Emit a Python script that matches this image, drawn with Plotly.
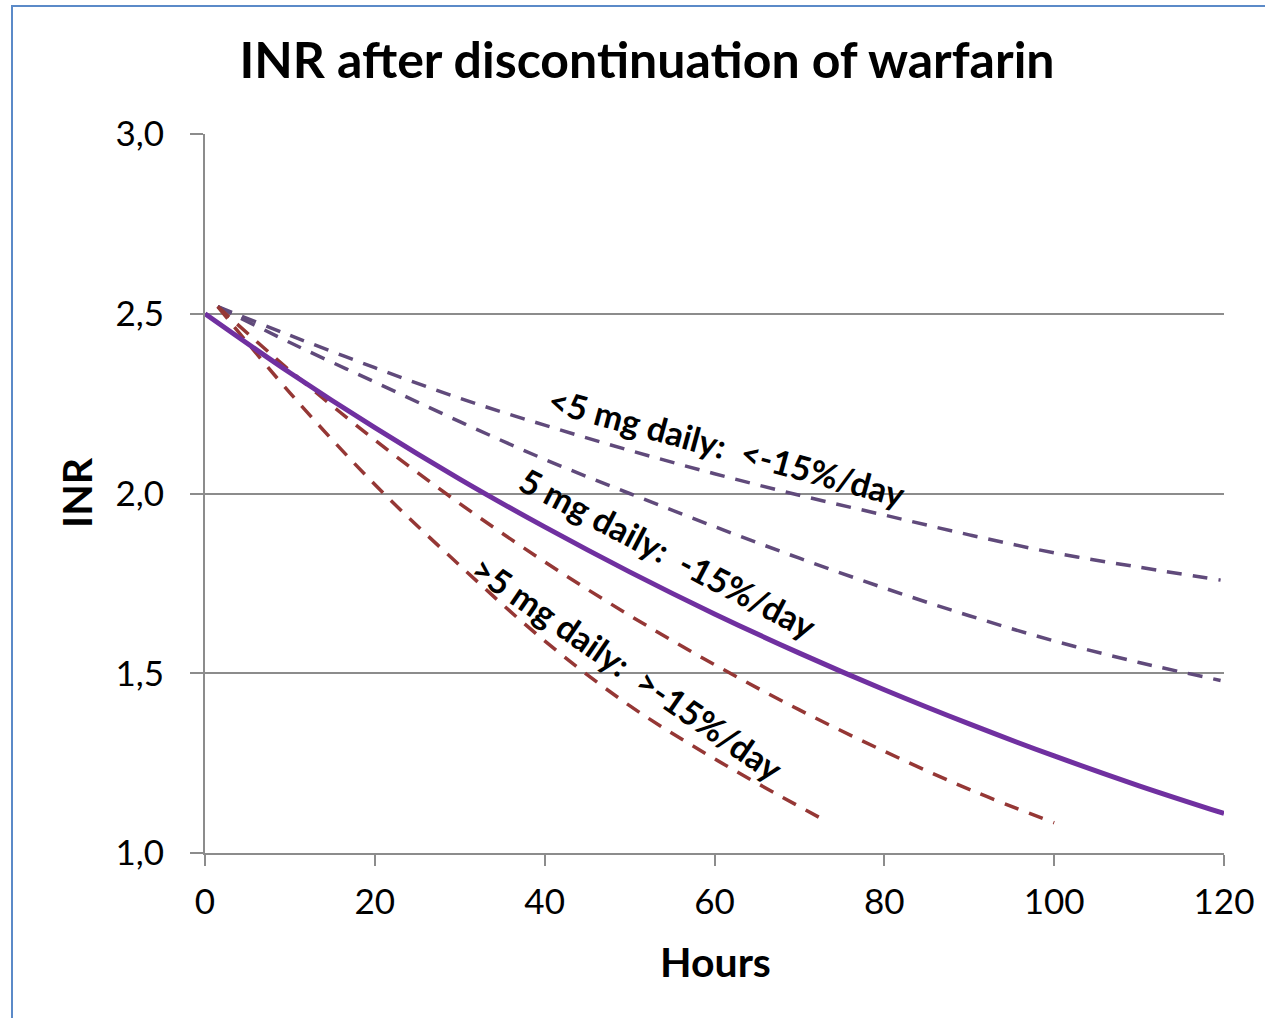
import plotly.graph_objects as go

# Hours after the last dose and the INR at each point, 5 mg daily (solid)
hours = [0, 10, 20, 30, 40, 50, 60, 70, 80, 90, 100, 110, 120]
inr_5mg = [2.50, 2.336, 2.183, 2.040, 1.907, 1.782, 1.665, 1.556, 1.454, 1.359, 1.270, 1.187, 1.110]

# <5 mg daily: two slower dashed curves
low_hours = [1.5, 10, 20, 30, 40, 50, 60, 70, 80, 90, 100, 110, 119.6]
low_slow_inr = [2.52, 2.44, 2.35, 2.265, 2.19, 2.12, 2.055, 1.995, 1.94, 1.885, 1.835, 1.795, 1.759]
low_fast_inr = [2.52, 2.42, 2.31, 2.20, 2.095, 2.0, 1.908, 1.82, 1.737, 1.66, 1.59, 1.53, 1.48]

# >5 mg daily: two faster dashed curves
high_a_hours = [1.5, 10, 20, 30, 40, 50, 60, 70, 80, 90, 100]
high_a_inr = [2.52, 2.342, 2.149, 1.972, 1.810, 1.661, 1.524, 1.398, 1.283, 1.177, 1.084]
high_b_hours = [1.5, 10, 20, 30, 40, 50, 60, 72.8]
high_b_inr = [2.52, 2.28, 2.025, 1.80, 1.59, 1.41, 1.262, 1.093]

x_ticks = [0, 20, 40, 60, 80, 100, 120]
y_ticks = [1.0, 1.5, 2.0, 2.5, 3.0]

label_low = "<5 mg daily:  <-15%/day"
label_mid = "5 mg daily:  -15%/day"
label_high = ">5 mg daily:  >-15%/day"

FONT = "Lato"
GRID = "#8c8c8c"
PURPLE = "#7030A0"
DPURPLE = "#604A7B"
DRED = "#953735"
DASH = "15px,11px"

# plot-area geometry in pixels
L, R, T, B = 205, 1224, 134, 853
PW, PH = R - L, B - T

fig = go.Figure()
for xs, ys, col in [
    (low_hours, low_slow_inr, DPURPLE),
    (low_hours, low_fast_inr, DPURPLE),
    (high_a_hours, high_a_inr, DRED),
    (high_b_hours, high_b_inr, DRED),
]:
    fig.add_trace(go.Scatter(x=xs, y=ys, mode="lines",
                             line=dict(color=col, width=3.5, dash=DASH, shape="spline"),
                             hoverinfo="skip", showlegend=False))

fig.add_trace(go.Scatter(x=hours, y=inr_5mg, mode="lines",
                         line=dict(color=PURPLE, width=5, shape="spline"),
                         showlegend=False))

ann_font = dict(family=FONT, size=34, color="black", weight="bold")
fig.add_annotation(x=61.4, y=2.13, text=label_low, textangle=15.2,
                   showarrow=False, font=ann_font)
fig.add_annotation(x=54.5, y=1.835, text=label_mid, textangle=27.5,
                   showarrow=False, font=ann_font)
fig.add_annotation(x=49.7, y=1.515, text=label_high, textangle=34.5,
                   showarrow=False, font=ann_font)

# Axis titles
title_font = dict(family=FONT, size=41, color="black", weight="bold")
fig.add_annotation(xref="paper", yref="paper", x=(715 - L) / PW, y=(B - 961) / PH,
                   text="Hours", showarrow=False, font=title_font,
                   xanchor="center", yanchor="middle")
fig.add_annotation(xref="paper", yref="paper", x=(76 - L) / PW, y=(B - 493) / PH,
                   text="INR", showarrow=False, font=title_font, textangle=-90,
                   xanchor="center", yanchor="middle")

# Frame around the whole chart
fig.add_shape(type="rect", xref="paper", yref="paper",
              x0=(12 - L) / PW, x1=(1275 - L) / PW,
              y0=(B - 1030) / PH, y1=(B - 6) / PH,
              line=dict(color="#5B8AC8", width=2), fillcolor="rgba(0,0,0,0)",
              layer="below")

fig.update_layout(
    width=1265, height=1018,
    margin=dict(l=L, r=1265 - R, t=T, b=1018 - B, autoexpand=False),
    paper_bgcolor="white", plot_bgcolor="white",
    separators=",.",
    title=dict(text="INR after discontinuation of warfarin",
               x=647 / 1265, xref="container", xanchor="center",
               y=1 - 60 / 1018, yref="container", yanchor="middle",
               font=dict(family=FONT, size=50, color="black", weight="bold")),
    xaxis=dict(range=[0, 120], tickvals=x_ticks, showgrid=False, zeroline=False,
               showline=True, linecolor=GRID, linewidth=2,
               ticks="outside", ticklen=11, tickcolor=GRID, tickwidth=2,
               ticklabelstandoff=6,
               tickfont=dict(family=FONT, size=35, color="black")),
    yaxis=dict(range=[1.0, 3.0], tickvals=y_ticks, tickformat=".1f",
               showgrid=True, gridcolor=GRID, gridwidth=2, zeroline=False,
               showline=True, linecolor=GRID, linewidth=2,
               ticks="outside", ticklen=13, tickcolor=GRID, tickwidth=2,
               ticklabelstandoff=19,
               tickfont=dict(family=FONT, size=35, color="black")),
)

fig.write_html("out.html")
